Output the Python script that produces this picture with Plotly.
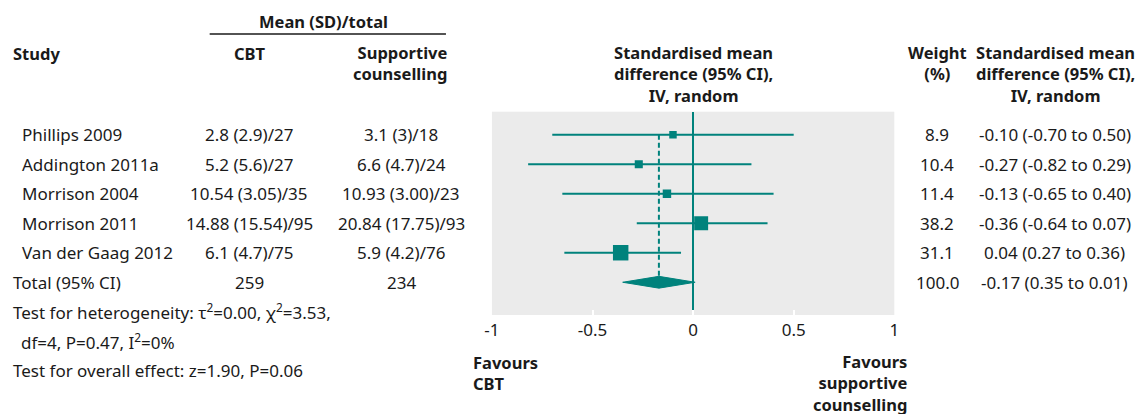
import plotly.graph_objects as go

# ---------------- data ----------------
studies = ["Phillips 2009", "Addington 2011a", "Morrison 2004", "Morrison 2011", "Van der Gaag 2012"]
cbt_text = ["2.8 (2.9)/27", "5.2 (5.6)/27", "10.54 (3.05)/35", "14.88 (15.54)/95", "6.1 (4.7)/75"]
sc_text = ["3.1 (3)/18", "6.6 (4.7)/24", "10.93 (3.00)/23", "20.84 (17.75)/93", "5.9 (4.2)/76"]
weight_text = ["8.9", "10.4", "11.4", "38.2", "31.1"]
smd_text = ["-0.10 (-0.70 to 0.50)", "-0.27 (-0.82 to 0.29)", "-0.13 (-0.65 to 0.40)",
            "-0.36 (-0.64 to 0.07)", "0.04 (0.27 to 0.36)"]
total_label = "Total (95% CI)"
total_cbt = "259"
total_sc = "234"
total_weight = "100.0"
total_smd = "-0.17 (0.35 to 0.01)"

# values as drawn in the plot panel
plot_est = [-0.10, -0.27, -0.13, 0.04, -0.36]
plot_lo = [-0.70, -0.82, -0.65, -0.28, -0.64]
plot_hi = [0.50, 0.29, 0.40, 0.37, -0.06]
plot_weight = [8.9, 10.4, 11.4, 31.1, 38.2]
total_est = -0.17
total_lo = -0.35
total_hi = 0.01

tick_vals = [-1, -0.5, 0, 0.5, 1]
tick_text = ["-1", "-0.5", "0", "0.5", "1"]

# ---------------- style ----------------
W, H = 1141, 414
TEAL = "#00827c"
TXT = "#1a1a1a"
FONT = "Noto Sans"
FS = 17
FSB = 16.5

def px(x):
    return x / W

def py(y):
    return 1 - y / H

rows = list(range(1, len(studies) + 1))
total_row = len(studies) + 1

fig = go.Figure()

# CI lines + squares
fig.add_trace(go.Scatter(
    x=plot_est, y=rows, mode="markers",
    marker=dict(symbol="square", color=TEAL, opacity=1,
                size=[2.5 * w ** 0.5 for w in plot_weight], line=dict(width=0)),
    error_x=dict(type="data", symmetric=False,
                 array=[h - e for h, e in zip(plot_hi, plot_est)],
                 arrayminus=[e - l for e, l in zip(plot_est, plot_lo)],
                 color=TEAL, thickness=2, width=0),
    hoverinfo="skip", showlegend=False))

# dashed line at pooled estimate
dh = 0.2
fig.add_trace(go.Scatter(
    x=[total_est, total_est], y=[rows[0], total_row - dh], mode="lines",
    line=dict(color=TEAL, width=2, dash="5px,3px"), hoverinfo="skip", showlegend=False))

# diamond
fig.add_trace(go.Scatter(
    x=[total_lo, total_est, total_hi, total_est, total_lo],
    y=[total_row, total_row - dh, total_row, total_row + dh, total_row],
    mode="lines", fill="toself", fillcolor=TEAL, line=dict(color=TEAL, width=1),
    hoverinfo="skip", showlegend=False))

top_px, bot_px = 111.7, 315
fig.update_layout(
    width=W, height=H, margin=dict(l=0, r=0, t=0, b=0),
    paper_bgcolor="white", plot_bgcolor="#ebebeb",
    font=dict(family=FONT, size=FS, color=TXT),
    xaxis=dict(domain=[px(489.5), px(896.5)], range=[-1, 1], tickvals=tick_vals,
               ticktext=tick_text, showgrid=False, zeroline=True, zerolinecolor=TEAL,
               zerolinewidth=2, ticks="inside", tickcolor="white", ticklen=5, tickwidth=2,
               showline=False, tickfont=dict(size=FS, color=TXT), ticklabelstandoff=3,
               fixedrange=True),
    yaxis=dict(domain=[py(bot_px), py(top_px)], range=[7.11, 0.22], showgrid=False,
               zeroline=False, showticklabels=False, ticks="", fixedrange=True),
)

ann = []

def A(text, x, y, xanchor="center", yref="paper", bold=False, align="center"):
    size = FS
    if bold:
        text = "<b>" + text.replace("<br>", "</b><br><b>") + "</b>"
        size = FSB
    ann.append(dict(text=text, x=px(x), y=(y if yref == "y" else py(y)), xref="paper",
                    yref=yref, xanchor=xanchor, yanchor="middle", showarrow=False,
                    align=align, font=dict(family=FONT, size=size, color=TXT)))

# headers
A("Mean (SD)/total", 319, 21, bold=True)
A("Study", 3, 53, xanchor="left", bold=True)
A("CBT", 245, 53, bold=True)
A("Supportive<br>counselling", 446, 63, xanchor="right", bold=True, align="right")
A("Standardised mean<br>difference (95% CI),<br>IV, random", 693, 74, bold=True)
A("Weight<br>(%)", 940, 63, bold=True)
A("Standardised mean<br>difference (95% CI),<br>IV, random", 1060, 74, bold=True)

# rows
for i, r in enumerate(rows):
    A(studies[i], 12, r, xanchor="left", yref="y")
    A(cbt_text[i], 244, r, yref="y")
    A(sc_text[i], 398, r, yref="y")
    A(weight_text[i], 940, r, yref="y")
    A(smd_text[i], 1059, r, yref="y")

A(total_label, 3, total_row, xanchor="left", yref="y")
A(total_cbt, 244, total_row, yref="y")
A(total_sc, 398, total_row, yref="y")
A(total_weight, 940, total_row, yref="y")
A(total_smd, 1059, total_row, yref="y")

# footer
A("Test for heterogeneity: τ<sup>2</sup>=0.00, χ<sup>2</sup>=3.53,", 3, 311.5, xanchor="left")
A("df=4, P=0.47, I<sup>2</sup>=0%", 11, 341, xanchor="left")
A("Test for overall effect: z=1.90, P=0.06", 3, 370.5, xanchor="left")
A("Favours<br>CBT", 468, 373, xanchor="left", bold=True, align="left")
A("Favours<br>supportive<br>counselling", 911, 383, xanchor="right", bold=True, align="right")

fig.update_layout(
    annotations=ann,
    shapes=[dict(type="line", xref="paper", yref="paper", x0=px(204), x1=px(443),
                 y0=py(34), y1=py(34), line=dict(color=TXT, width=1.5))])

fig.write_html("out.html", config={"displayModeBar": False},
               post_script="document.body.style.margin='0';")
